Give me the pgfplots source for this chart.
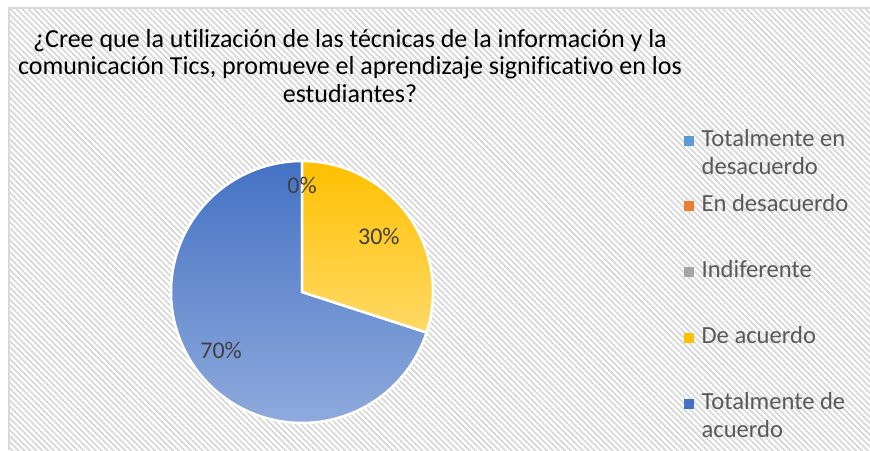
\documentclass[border=0pt]{standalone}
\usepackage{fontspec}
\setmainfont[Ligatures=NoCommon]{Carlito}
\usepackage{pgfplots}
\usepackage{pgfplotstable}
\pgfplotsset{compat=1.18}
\usetikzlibrary{patterns.meta}

\definecolor{bgline}{HTML}{D9D9D9}
\definecolor{legtext}{HTML}{595959}
\definecolor{lbltext}{HTML}{404040}
\definecolor{cA}{HTML}{5B9BD5}
\definecolor{cB}{HTML}{ED7D31}
\definecolor{cC}{HTML}{A5A5A5}
\definecolor{cD}{HTML}{FFC000}
\definecolor{cE}{HTML}{4472C4}
\definecolor{yTop}{HTML}{FFC000}
\definecolor{yBot}{HTML}{FFD966}
\definecolor{bTop}{HTML}{4472C4}
\definecolor{bBot}{HTML}{8FAADC}

\pgfplotstableread[col sep=comma]{
label,value
Totalmente en desacuerdo,0
En desacuerdo,0
Indiferente,0
De acuerdo,30
Totalmente de acuerdo,70
}\piedata

\begin{document}%
\begin{tikzpicture}
\pgfplotstablegetelem{3}{value}\of\piedata\let\vDe\pgfplotsretval
\pgfplotstablegetelem{4}{value}\of\piedata\let\vTot\pgfplotsretval
\pgfmathsetmacro\aDe{90-3.6*\vDe}
\pgfmathsetmacro\aTot{\aDe-3.6*\vTot}
\pgfmathsetmacro\mDe{(90+\aDe)/2}
\pgfmathsetmacro\mTot{(\aDe+\aTot)/2}
\begin{axis}[
  scale only axis, width=870pt, height=450pt,
  xmin=0, xmax=870, ymin=0, ymax=450,
  hide axis, clip=false,
  legend style={at={(axis description cs:0.7862,0.7133)}, anchor=north west,
    draw=none, fill=none, inner sep=0pt,
    font=\fontsize{24.6}{28}\selectfont, text=legtext, row sep=0pt,
    cells={anchor=base west},
    nodes={inner sep=0pt, text height=17pt, text depth=48.75pt},
    /tikz/every odd column/.append style={column sep=8pt}},
]
\fill[white] (axis cs:0,0) rectangle (axis cs:870,450);
\fill[pattern={Lines[angle=-45,distance=4.2pt,line width=1.8pt]}, pattern color=gray!30] (axis cs:9,0) rectangle (axis cs:870,442);
\draw[bgline, line width=2pt] (axis cs:9,0) -- (axis cs:9,442) -- (axis cs:870,442);

\addplot[forget plot, draw=white, line width=2.5pt, top color=bTop, bottom color=bBot,
  domain=\aTot:\aDe, samples=180] ({302+131*cos(x)},{158+131*sin(x)}) -- (axis cs:302,158) -- cycle;
\addplot[forget plot, draw=white, line width=2.5pt, top color=yTop, bottom color=yBot,
  domain=\aDe:90, samples=90] ({302+131*cos(x)},{158+131*sin(x)}) -- (axis cs:302,158) -- cycle;

\node[font=\fontsize{24}{28}\selectfont, text=lbltext] at (axis cs:302,265) {0\%};
\node[font=\fontsize{24}{28}\selectfont, text=lbltext] at (axis cs:{302+95*cos(\mDe)},{158+95*sin(\mDe)}) {\vDe\%};
\node[font=\fontsize{24}{28}\selectfont, text=lbltext] at (axis cs:{302+100*cos(\mTot)},{158+100*sin(\mTot)}) {\vTot\%};

\node[align=center, font=\fontsize{26}{27.5}\selectfont, anchor=north, inner sep=0pt] at (axis cs:350,421)
 {¿Cree que la utilización de las técnicas de la información y la\\comunicación Tics, promueve el aprendizaje significativo en los\\estudiantes?};

\addlegendimage{legend image code/.code={\fill[cA] (0pt,1.5pt) rectangle (9pt,10.5pt);}}
\addlegendentry{\parbox[t]{160pt}{Totalmente en\\desacuerdo}}
\addlegendimage{legend image code/.code={\fill[cB] (0pt,1.5pt) rectangle (9pt,10.5pt);}}
\addlegendentry{En desacuerdo}
\addlegendimage{legend image code/.code={\fill[cC] (0pt,1.5pt) rectangle (9pt,10.5pt);}}
\addlegendentry{Indiferente}
\addlegendimage{legend image code/.code={\fill[cD] (0pt,1.5pt) rectangle (9pt,10.5pt);}}
\addlegendentry{De acuerdo}
\addlegendimage{legend image code/.code={\fill[cE] (0pt,1.5pt) rectangle (9pt,10.5pt);}}
\addlegendentry{\parbox[t]{160pt}{Totalmente de\\acuerdo}}
\end{axis}
\pgfresetboundingbox
\path[use as bounding box] (current axis.south west) rectangle (current axis.north east);
\end{tikzpicture}%
\end{document}
